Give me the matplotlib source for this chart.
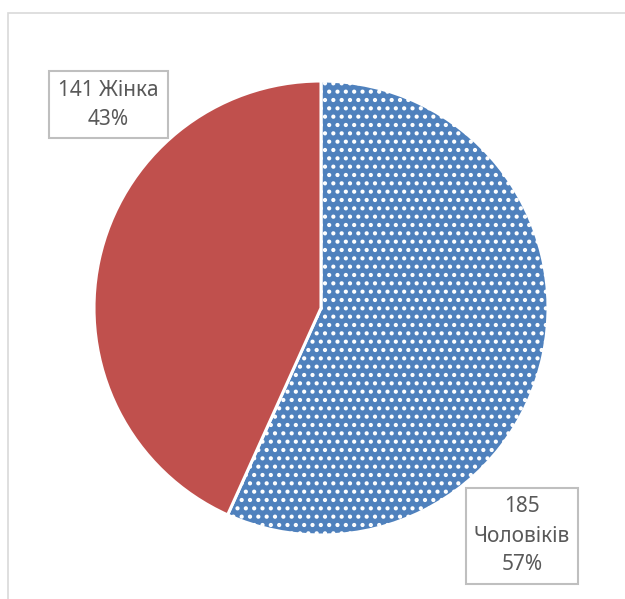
import matplotlib
matplotlib.use("Agg")
import matplotlib.pyplot as plt
from matplotlib.patches import Rectangle

# ==================== Chart data ====================
categories = ["Чоловіків", "Жінка"]
values = [185, 141]
colors = ["#4F81BD", "#C0504D"]
# ====================================================

W, H = 625, 599
CX, CY, R = 321, 308, 227   # pie centre / radius in pixels

plt.rcParams['font.family'] = ['Noto Sans', 'DejaVu Sans']
plt.rcParams['hatch.linewidth'] = 1.8

fig = plt.figure(figsize=(W / 100, H / 100), dpi=100)
ax = fig.add_axes([0, 0, 1, 1])
ax.axis('off')

# chart area border (only top/left edges fall inside the image)
fig.patches.append(Rectangle((8 / W, -0.1), 1.2, 1.1 - 13 / H,
                             transform=fig.transFigure, fill=False,
                             edgecolor='#D9D9D9', linewidth=1.2))

wedges, _ = ax.pie(values, colors=colors, startangle=90, counterclock=False,
                   radius=1.0, wedgeprops=dict(edgecolor='white', linewidth=2.2))
wedges[0].set_hatch('..')

# pie() resets limits, so fix them afterwards
ax.set_aspect('equal', adjustable='box')
ax.set_xlim(-CX / R, (W - CX) / R)
ax.set_ylim(-(H - CY) / R, CY / R)

total = sum(values)
pct = [round(v * 100 / total) for v in values]


def px(x, y):
    return (x - CX) / R, (CY - y) / R


def label_box(x0, y0, x1, y1, text):
    (ax0, ay0), (ax1, ay1) = px(x0, y1), px(x1, y0)
    ax.add_patch(Rectangle((ax0, ay0), ax1 - ax0, ay1 - ay0, facecolor='white',
                           edgecolor='#BFBFBF', linewidth=1.5, zorder=5))
    tx, ty = px((x0 + x1) / 2, (y0 + y1) / 2)
    ax.text(tx, ty, text, ha='center', va='center', fontsize=15,
            color='#595959', linespacing=1.5, zorder=6)


label_box(49, 71, 168, 138, f"{values[1]} {categories[1]}\n{pct[1]}%")
label_box(466, 488, 578, 584, f"{values[0]}\n{categories[0]}\n{pct[0]}%")

fig.savefig('out.png', dpi=100)
